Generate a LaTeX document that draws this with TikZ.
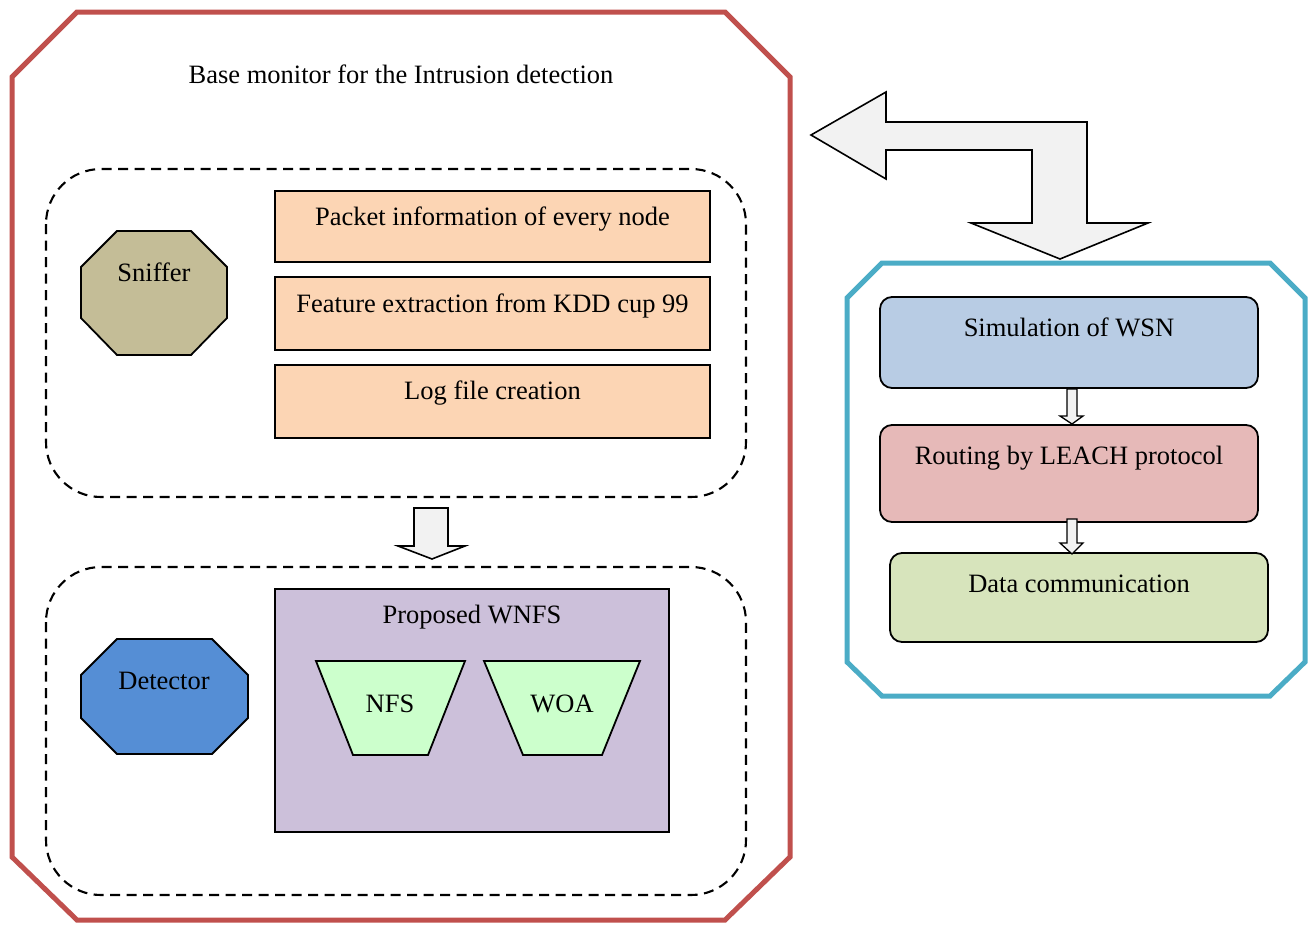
\documentclass[tikz,border=0pt]{standalone}
\usepackage{fontspec}
\setmainfont{Liberation Serif}
\definecolor{redframe}{HTML}{C0504D}
\definecolor{blueframe}{HTML}{4BACC6}
\definecolor{orangefill}{HTML}{FCD5B4}
\definecolor{purplefill}{HTML}{CCC0DA}
\definecolor{greenfill}{HTML}{CCFFCC}
\definecolor{snifffill}{HTML}{C4BD97}
\definecolor{detfill}{HTML}{558ED5}
\definecolor{simfill}{HTML}{B8CCE4}
\definecolor{routefill}{HTML}{E6B9B8}
\definecolor{datafill}{HTML}{D7E4BC}
\definecolor{arrowfill}{HTML}{F2F2F2}
\begin{document}
\begin{tikzpicture}[x=1pt,y=-1pt,font=\fontsize{26.5}{30}\selectfont,line join=miter,
  lbl/.style={inner sep=0pt},
  dashbox/.style={draw,line width=2.1pt,dash pattern=on 10pt off 6.5pt,rounded corners=55pt},
  plainbox/.style={draw,line width=1.8pt,inner sep=0pt},
  roundbox/.style={draw,line width=1.8pt,rounded corners=12pt,inner sep=0pt},
  blockarrow/.style={draw,line width=1.6pt,fill=arrowfill}]
\useasboundingbox (0,0) rectangle (1308,926);

% red outer frame
\draw[redframe,line width=5pt] (77,12) -- (725,12) -- (790,77) -- (790,857) -- (725,920) -- (77,920) -- (12,857) -- (12,77) -- cycle;
\node[lbl] (title) at (401,74) {Base monitor for the Intrusion detection};

% dashed groups
\draw[dashbox] (46,169) rectangle (746,497);
\draw[dashbox] (46,567) rectangle (746,895);

% sniffer
\draw[line width=1.8pt,fill=snifffill] (117,231) -- (191,231) -- (227,267) -- (227,318) -- (191,355) -- (117,355) -- (81,318) -- (81,267) -- cycle;
\node[lbl] (sniffer) at (154,272) {Sniffer};

% orange boxes
\node[plainbox,fill=orangefill,minimum width=435pt,minimum height=71pt] (b1) at (492.5,226.5) {};
\node[lbl] (t1) at (492.5,219.5) {Packet information of every node};
\node[plainbox,fill=orangefill,minimum width=435pt,minimum height=73pt] (b2) at (492.5,313.5) {};
\node[lbl] (t2) at (492.5,305.5) {Feature extraction from KDD cup 99};
\node[plainbox,fill=orangefill,minimum width=435pt,minimum height=73pt] (b3) at (492.5,401.5) {};
\node[lbl] (t3) at (492.5,393.5) {Log file creation};

% arrow between groups
\draw[blockarrow] (414,508) -- (448,508) -- (448,546) -- (465,546) -- (432,559) -- (398,546) -- (414,546) -- cycle;

% detector
\draw[line width=1.8pt,fill=detfill] (117,639) -- (212,639) -- (248,675) -- (248,718) -- (212,754) -- (117,754) -- (81,718) -- (81,675) -- cycle;
\node[lbl] (detector) at (164,681) {Detector};

% proposed WNFS
\node[plainbox,fill=purplefill,minimum width=394pt,minimum height=243pt] (wnfs) at (472,710.5) {};
\node[lbl] (twnfs) at (472,617.5) {Proposed WNFS};
\draw[line width=1.8pt,fill=greenfill] (316,661) -- (465,661) -- (428,755) -- (353,755) -- cycle;
\node[lbl] (nfs) at (390,704) {NFS};
\draw[line width=1.8pt,fill=greenfill] (484,661) -- (640,661) -- (602,755) -- (523,755) -- cycle;
\node[lbl] (woa) at (562,704) {WOA};

% double block arrow
\draw[blockarrow] (811,135) -- (886,92) -- (886,122) -- (1087,122) -- (1087,223) -- (1148,223) -- (1060,259) -- (971,223) -- (1032,223) -- (1032,150) -- (886,150) -- (886,179) -- cycle;

% blue frame
\draw[blueframe,line width=5pt] (882,263) -- (1270,263) -- (1305,298) -- (1305,662) -- (1270,696) -- (882,696) -- (847,662) -- (847,298) -- cycle;

% WSN boxes
\node[roundbox,fill=simfill,minimum width=378pt,minimum height=91pt] (sim) at (1069,342.5) {};
\node[lbl] (tsim) at (1069,327) {Simulation of WSN};
\node[roundbox,fill=routefill,minimum width=378pt,minimum height=97pt] (route) at (1069,473.5) {};
\node[lbl] (troute) at (1069,458.5) {Routing by LEACH protocol};
\node[roundbox,fill=datafill,minimum width=378pt,minimum height=89pt] (data) at (1079,597.5) {};
\node[lbl] (tdata) at (1079,584) {Data communication};

% small arrows
\draw[blockarrow,line width=1.3pt] (1067,389) -- (1077,389) -- (1077,416) -- (1083,416) -- (1072,424) -- (1060,416) -- (1067,416) -- cycle;
\draw[blockarrow,line width=1.3pt] (1067,519) -- (1077,519) -- (1077,543) -- (1083,543) -- (1072,554) -- (1060,543) -- (1067,543) -- cycle;
\end{tikzpicture}
\end{document}
